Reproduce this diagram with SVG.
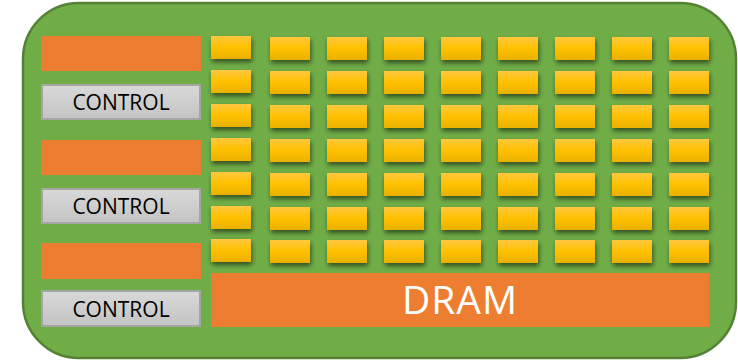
<svg xmlns="http://www.w3.org/2000/svg" width="738" height="361" viewBox="0 0 738 361">
<defs>
<linearGradient id="gy" x1="0" y1="0" x2="0" y2="1">
<stop offset="0" stop-color="#FFC83F"/>
<stop offset="0.5" stop-color="#FFC000"/>
<stop offset="1" stop-color="#E8B000"/>
</linearGradient>
<linearGradient id="gg" x1="0" y1="0" x2="0" y2="1">
<stop offset="0" stop-color="#D9D9D9"/>
<stop offset="1" stop-color="#C3C3C3"/>
</linearGradient>
<filter id="sh" x="-30%" y="-30%" width="160%" height="180%">
<feGaussianBlur in="SourceAlpha" stdDeviation="2.5"/>
<feOffset dx="1" dy="3" result="b"/>
<feFlood flood-color="#000" flood-opacity="0.55"/>
<feComposite in2="b" operator="in"/>
<feMerge><feMergeNode/><feMergeNode in="SourceGraphic"/></feMerge>
</filter>
<rect id="cell" width="40" height="23" fill="url(#gy)" filter="url(#sh)"/>
</defs>
<style>
.org{fill:#ED7D31}
.ctl{fill:url(#gg);stroke:#A5A5A5;stroke-width:2}
.ct{font-family:"Open Sans","Liberation Sans",sans-serif;font-size:21px;fill:#000;text-anchor:middle}
</style>
<g id="chip"><rect x="23" y="3" width="713" height="355" rx="56" ry="56" fill="#70AD47" stroke="#548235" stroke-width="2.5"/></g>
<g id="cache1"><rect class="org" x="41" y="36" width="160" height="35"/></g>
<g id="control1"><rect class="ctl" x="42" y="85" width="158" height="34"/><text class="ct" x="121" y="110">CONTROL</text></g>
<g id="cache2"><rect class="org" x="41" y="140" width="160" height="35"/></g>
<g id="control2"><rect class="ctl" x="42" y="189" width="158" height="34"/><text class="ct" x="121" y="214">CONTROL</text></g>
<g id="cache3"><rect class="org" x="41" y="243" width="160" height="36"/></g>
<g id="control3"><rect class="ctl" x="42" y="291" width="158" height="35"/><text class="ct" x="121" y="316.5">CONTROL</text></g>
<g id="cores">
<use href="#cell" x="211" y="36"/><use href="#cell" x="211" y="70"/><use href="#cell" x="211" y="104"/><use href="#cell" x="211" y="138"/><use href="#cell" x="211" y="172"/><use href="#cell" x="211" y="206"/><use href="#cell" x="211" y="239"/>
<use href="#cell" x="270" y="37"/><use href="#cell" x="270" y="71"/><use href="#cell" x="270" y="105"/><use href="#cell" x="270" y="139"/><use href="#cell" x="270" y="173"/><use href="#cell" x="270" y="207"/><use href="#cell" x="270" y="240"/>
<use href="#cell" x="327" y="37"/><use href="#cell" x="327" y="71"/><use href="#cell" x="327" y="105"/><use href="#cell" x="327" y="139"/><use href="#cell" x="327" y="173"/><use href="#cell" x="327" y="207"/><use href="#cell" x="327" y="240"/>
<use href="#cell" x="384" y="37"/><use href="#cell" x="384" y="71"/><use href="#cell" x="384" y="105"/><use href="#cell" x="384" y="139"/><use href="#cell" x="384" y="173"/><use href="#cell" x="384" y="207"/><use href="#cell" x="384" y="240"/>
<use href="#cell" x="441" y="37"/><use href="#cell" x="441" y="71"/><use href="#cell" x="441" y="105"/><use href="#cell" x="441" y="139"/><use href="#cell" x="441" y="173"/><use href="#cell" x="441" y="207"/><use href="#cell" x="441" y="240"/>
<use href="#cell" x="498" y="37"/><use href="#cell" x="498" y="71"/><use href="#cell" x="498" y="105"/><use href="#cell" x="498" y="139"/><use href="#cell" x="498" y="173"/><use href="#cell" x="498" y="207"/><use href="#cell" x="498" y="240"/>
<use href="#cell" x="555" y="37"/><use href="#cell" x="555" y="71"/><use href="#cell" x="555" y="105"/><use href="#cell" x="555" y="139"/><use href="#cell" x="555" y="173"/><use href="#cell" x="555" y="207"/><use href="#cell" x="555" y="240"/>
<use href="#cell" x="612" y="37"/><use href="#cell" x="612" y="71"/><use href="#cell" x="612" y="105"/><use href="#cell" x="612" y="139"/><use href="#cell" x="612" y="173"/><use href="#cell" x="612" y="207"/><use href="#cell" x="612" y="240"/>
<use href="#cell" x="669" y="37"/><use href="#cell" x="669" y="71"/><use href="#cell" x="669" y="105"/><use href="#cell" x="669" y="139"/><use href="#cell" x="669" y="173"/><use href="#cell" x="669" y="207"/><use href="#cell" x="669" y="240"/>
</g>
<g id="dram"><rect class="org" x="211" y="273" width="498" height="54"/><text x="460" y="314" font-family="Open Sans, Liberation Sans, sans-serif" font-size="39" letter-spacing="1" fill="#FFFFFF" text-anchor="middle">DRAM</text></g>
<g id="connectors"/>
</svg>
